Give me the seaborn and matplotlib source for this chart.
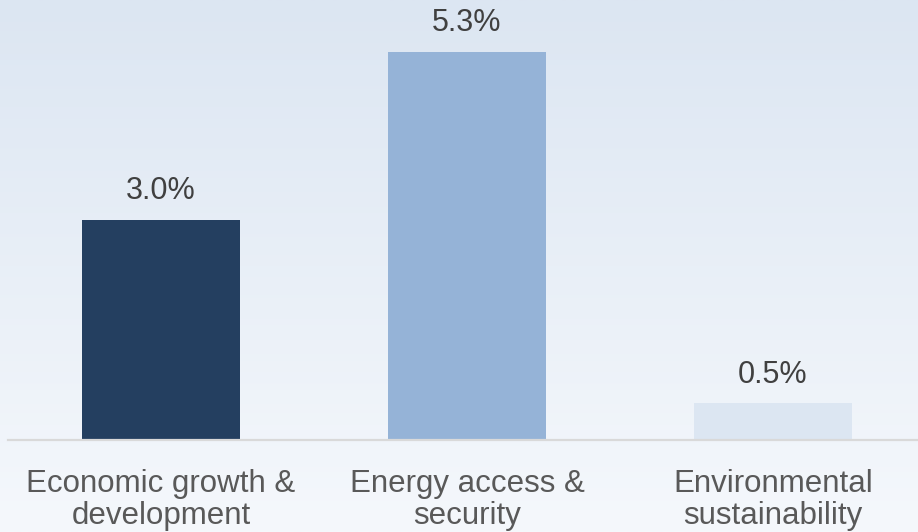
import numpy as np
import pandas as pd
import matplotlib
matplotlib.use("Agg")
import matplotlib.pyplot as plt
import seaborn as sns

categories = ["Economic growth &\ndevelopment", "Energy access &\nsecurity", "Environmental\nsustainability"]
values = [3.0, 5.3, 0.5]
bar_colors = ["#243f60", "#95b3d7", "#dce6f2"]

df = pd.DataFrame({"category": categories, "value": values})

sns.set_theme(style="white")
plt.rcParams["font.family"] = ["Liberation Sans", "DejaVu Sans"]

W, H = 918, 532
fig = plt.figure(figsize=(W / 100, H / 100), dpi=100)

# soft vertical gradient behind the chart
bg = fig.add_axes([0, 0, 1, 1], zorder=0)
top = np.array([220, 230, 242]) / 255
bottom = np.array([245, 248, 252]) / 255
t = np.linspace(0, 1, 256)[:, None]
grad = (top[None, :] * (1 - t) + bottom[None, :] * t)[:, None, :]
bg.imshow(grad, aspect="auto", extent=[0, 1, 0, 1])
bg.axis("off")

base_px = 440
ax = fig.add_axes([8 / W, (H - base_px) / H, (W - 8) / W, base_px / H], zorder=1)
ax.patch.set_alpha(0)

sns.barplot(data=df, x="category", y="value", hue="category", palette=bar_colors,
            legend=False, width=0.516, saturation=1, linewidth=0, ax=ax)

ax.set_xlim(-0.5, 2.474)
ax.set_ylim(0, 6.01)
ax.set_xlabel("")
ax.set_ylabel("")
ax.set_yticks([])
for s in ["top", "right", "left"]:
    ax.spines[s].set_visible(False)
ax.spines["bottom"].set_color("#d9d9d9")
ax.spines["bottom"].set_linewidth(1.6)

ax.tick_params(axis="x", length=0, pad=21, labelsize=22.5, labelcolor="#595959")
for lbl in ax.get_xticklabels():
    lbl.set_linespacing(1.1)

for i, v in enumerate(values):
    ax.annotate(f"{v:.1f}%", xy=(i, v), xytext=(0, 10), textcoords="offset points",
                ha="center", va="bottom", fontsize=22, color="#404040")

fig.savefig("out.png", dpi=100)
